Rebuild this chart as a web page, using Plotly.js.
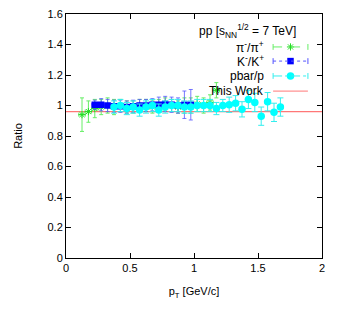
<!DOCTYPE html>
<html><head><meta charset="utf-8">
<script src="https://cdn.plot.ly/plotly-3.0.1.min.js"></script>
<style>html,body{margin:0;padding:0;background:#fff}#c{width:346px;height:309px}</style>
</head><body><div id="c"></div>
<script>
// pi-/pi+
var pionX = [0.125,0.175,0.225,0.275,0.325,0.375,0.425,0.475,0.525,0.575,0.625,0.675,0.725,0.775,0.825,0.875,0.925,0.975,1.025,1.075,1.125,1.175];
var pionY = [0.94,0.96,0.98,0.99,1.00,0.99,1.00,0.99,0.99,1.00,1.00,0.99,1.00,1.01,1.00,0.99,1.00,1.00,1.01,1.00,1.02,1.10];
var pionErr = [0.11,0.07,0.06,0.05,0.05,0.05,0.04,0.04,0.04,0.04,0.04,0.04,0.04,0.04,0.04,0.04,0.05,0.05,0.05,0.05,0.05,0.05];
// K-/K+
var kaonX = [0.225,0.275,0.325,0.375,0.425,0.475,0.525,0.575,0.625,0.675,0.725,0.775,0.825,0.875,0.925,0.975];
var kaonY = [1.005,1.005,1.000,0.995,0.995,0.990,0.995,1.000,1.000,1.005,1.005,1.010,1.005,1.000,1.005,1.005];
var kaonErr = [0.03,0.04,0.04,0.04,0.04,0.04,0.04,0.04,0.04,0.04,0.05,0.05,0.05,0.05,0.09,0.10];
// pbar/p
var protX = [0.375,0.425,0.475,0.525,0.575,0.625,0.675,0.725,0.775,0.825,0.875,0.925,0.975,1.025,1.075,1.125,1.175,1.225,1.275,1.325,1.375,1.425,1.475,1.525,1.575,1.625,1.675];
var protY = [0.99,1.00,0.98,0.99,0.97,0.99,1.00,0.97,0.99,1.00,1.00,0.99,0.99,1.00,1.00,1.00,0.98,1.00,1.005,1.015,0.975,1.04,1.02,0.93,1.025,0.955,0.99];
var protErr = [0.04,0.04,0.04,0.04,0.04,0.04,0.04,0.04,0.04,0.04,0.04,0.04,0.04,0.04,0.04,0.04,0.04,0.04,0.05,0.05,0.05,0.06,0.06,0.06,0.06,0.06,0.06];
var thisWork = 0.96;
var xTicks = [0,0.5,1,1.5,2];
var xTickText = ['0','0.5','1','1.5','2'];
var yTicks = [0,0.2,0.4,0.6,0.8,1,1.2,1.4,1.6];
var yTickText = ['0','0.2','0.4','0.6','0.8','1','1.2','1.4','1.6'];
var legendNames = ['π<sup>-</sup>/π<sup>+</sup>','K<sup>-</sup>/K<sup>+</sup>','pbar/p','This Work'];

var cG='#22dd22', cGe='#66ee66', cB='#0000ff', cBe='#5555ff', cC='#00ffff', cCe='#33eeee', cR='#ff7777';
function errX(n){var a=[];for(var i=0;i<n;i++)a.push(0.025);return a;}

var traces = [
 {x:[0,2], y:[thisWork,thisWork], mode:'lines', line:{color:cR,width:1.2}, hoverinfo:'skip'},
 {x:pionX, y:pionY, mode:'markers', marker:{symbol:'asterisk-open', size:6, color:cG, line:{color:cG,width:1}},
  error_y:{type:'data', array:pionErr, color:cGe, thickness:1, width:2},
  error_x:{type:'data', array:errX(pionX.length), color:cGe, thickness:1, width:2}},
 {x:kaonX, y:kaonY, mode:'markers', marker:{symbol:'square', size:6.5, color:cB},
  error_y:{type:'data', array:kaonErr, color:cBe, thickness:0.8, width:2},
  error_x:{type:'data', array:errX(kaonX.length), color:cBe, thickness:0.8, width:2}},
 {x:protX, y:protY, mode:'markers', marker:{symbol:'circle', size:7.5, color:cC},
  error_y:{type:'data', array:protErr, color:cCe, thickness:1, width:3},
  error_x:{type:'data', array:errX(protX.length), color:cCe, thickness:1, width:0}}
];

// legend (gnuplot style: text right, sample to the right)
var rowsY = [0.865,0.807,0.746,0.684];
var sx0=0.809, sx1=0.945, smx=0.877;
var legColors=[cGe,cBe,cCe,cR];
var legDash=['dash','dot','dashdot','solid'];
var shapes=[], annotations=[];
for (var i=0;i<4;i++){
  shapes.push({type:'line', xref:'paper', yref:'paper', x0:sx0, x1:sx1, y0:rowsY[i], y1:rowsY[i], line:{color:legColors[i], width:1, dash:legDash[i]}});
  if(i<3){
    shapes.push({type:'line', xref:'paper', yref:'paper', x0:sx0, x1:sx0, y0:rowsY[i]-0.012, y1:rowsY[i]+0.012, line:{color:legColors[i], width:1}});
    shapes.push({type:'line', xref:'paper', yref:'paper', x0:sx1, x1:sx1, y0:rowsY[i]-0.012, y1:rowsY[i]+0.012, line:{color:legColors[i], width:1}});
  }
  annotations.push({xref:'paper', yref:'paper', x:0.781, y:rowsY[i], xanchor:'right', yanchor:'middle', text:legendNames[i], showarrow:false, font:{family:'Liberation Sans, Arial, sans-serif', size:12, color:'#000'}});
}
annotations.push({xref:'paper', yref:'paper', x:0.905, y:0.93, xanchor:'right', yanchor:'middle', text:'pp [s<sub>NN</sub><sup>1/2</sup> = 7 TeV]', showarrow:false, font:{family:'Liberation Sans, Arial, sans-serif', size:12, color:'#000'}});

traces.push({x:[smx], y:[rowsY[0]], xaxis:'x2', yaxis:'y2', mode:'markers', marker:{symbol:'asterisk-open', size:6, color:cG, line:{color:cG,width:1}}, hoverinfo:'skip'});
traces.push({x:[smx], y:[rowsY[1]], xaxis:'x2', yaxis:'y2', mode:'markers', marker:{symbol:'square', size:6.5, color:cB}, hoverinfo:'skip'});
traces.push({x:[smx], y:[rowsY[2]], xaxis:'x2', yaxis:'y2', mode:'markers', marker:{symbol:'circle', size:7.5, color:cC}, hoverinfo:'skip'});

var font = {family:'Liberation Sans, Arial, sans-serif', size:11, color:'#000'};
var layout = {
  width:346, height:309, showlegend:false,
  margin:{l:66, r:24, t:14, b:51, pad:0},
  paper_bgcolor:'#fff', plot_bgcolor:'#fff', font:font,
  xaxis:{range:[0,2], tickvals:xTicks, ticktext:xTickText, ticks:'inside', ticklen:5, tickcolor:'#000', mirror:'ticks', showline:true, linecolor:'#000', linewidth:1, showgrid:false, zeroline:false,
    title:{text:'p<sub>T</sub> [GeV/c]', font:{size:11}, standoff:14}, tickfont:{size:11}},
  yaxis:{range:[0,1.6], tickvals:yTicks, ticktext:yTickText, ticks:'inside', ticklen:5, tickcolor:'#000', mirror:'ticks', showline:true, linecolor:'#000', linewidth:1, showgrid:false, zeroline:false,
    title:{text:'Ratio', font:{size:11}, standoff:22}, tickfont:{size:11}},
  xaxis2:{range:[0,1], overlaying:'x', visible:false, fixedrange:true},
  yaxis2:{range:[0,1], overlaying:'y', visible:false, fixedrange:true},
  shapes:shapes, annotations:annotations
};
Plotly.newPlot('c', traces, layout, {staticPlot:true, displayModeBar:false});
</script></body></html>
